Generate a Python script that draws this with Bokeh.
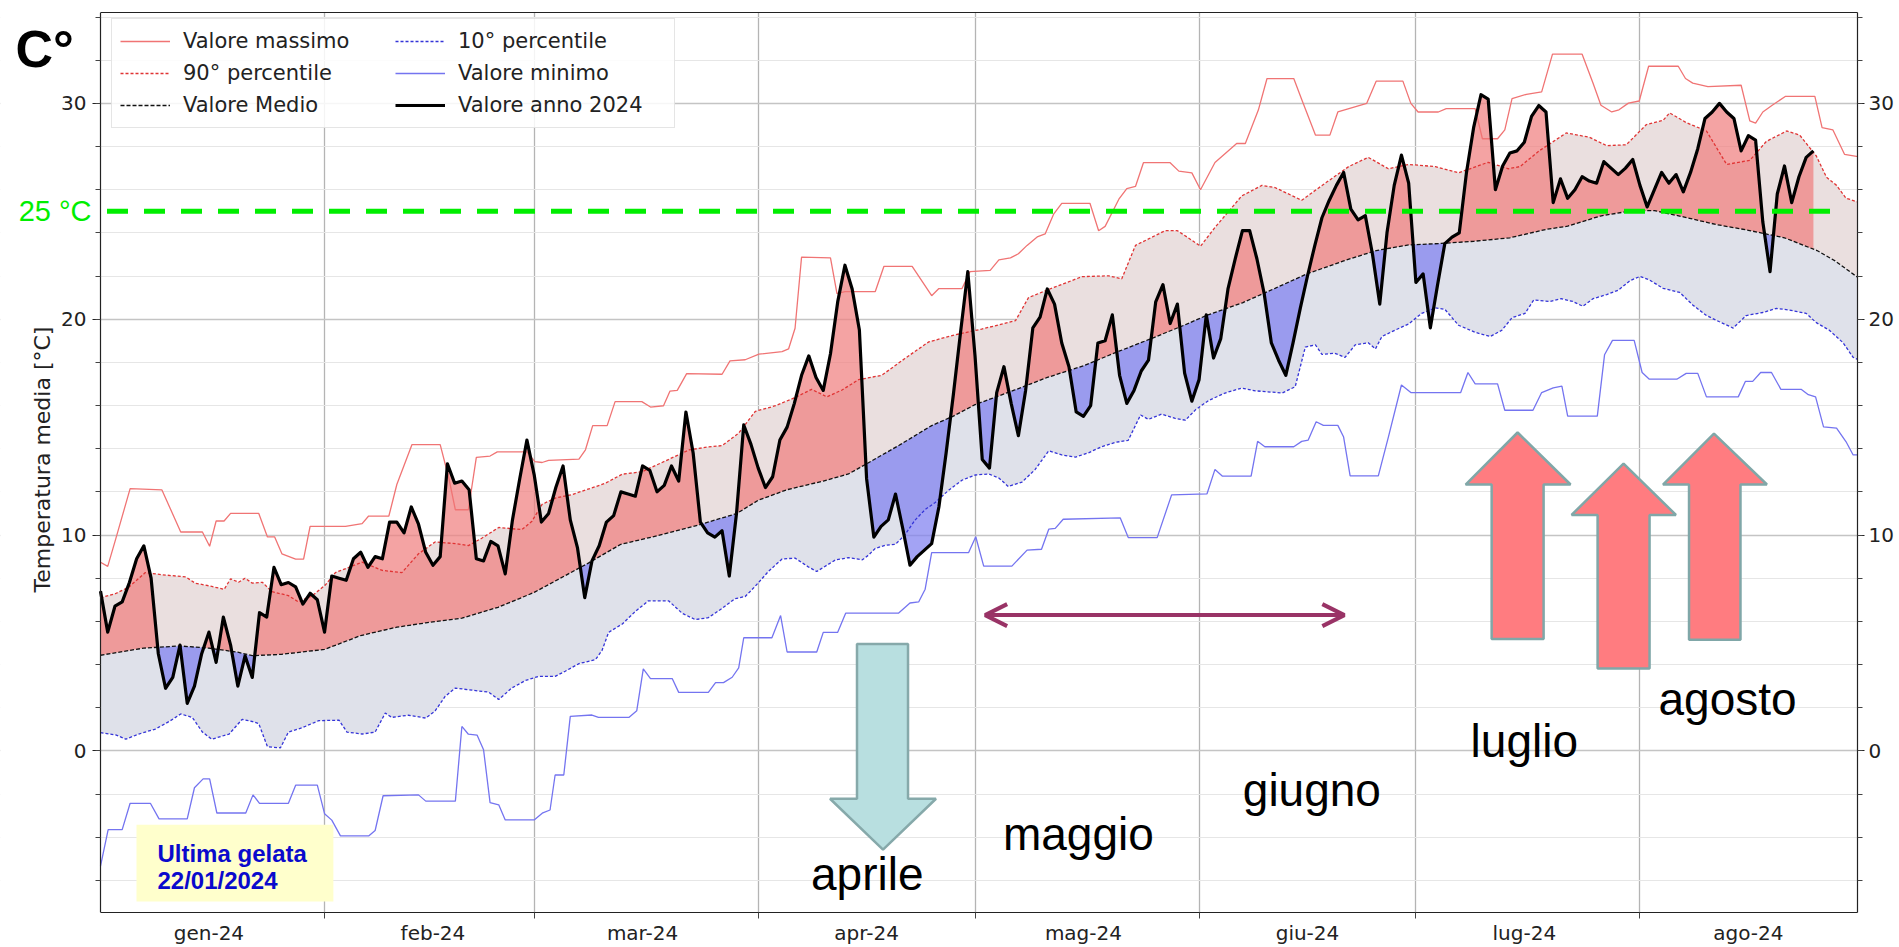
import numpy as np
from bokeh.plotting import figure
from bokeh.models import (Range1d, LinearAxis, FixedTicker, Legend, LegendItem,
                          Label, Arrow, OpenHead)
from bokeh.embed import file_html
from bokeh.resources import INLINE

# ---------------- data (day index from 1 Jan 2024, °C) ----------------
MONTH_LABELS = ["gen-24", "feb-24", "mar-24", "apr-24", "mag-24", "giu-24", "lug-24", "ago-24"]
LABEL_DAYS = [15, 46, 75, 106, 136, 167, 197, 228]
MONTH_STARTS = [31, 60, 91, 121, 152, 182, 213]

MEAN_DAY = [0, 6, 11, 15, 19, 21, 25, 31, 36, 41, 45, 50, 55, 60, 67.5, 72, 77, 83, 88, 91, 95, 100,
            103.5, 106, 110.5, 115, 118, 121, 126.5, 131, 136, 140.5, 145, 150, 153, 158, 162.5, 167,
            172, 176.5, 181, 185.5, 190, 195, 200, 203, 207.5, 212, 215, 219, 223.5, 228, 233, 237.5,
            240, 243.2]
MEAN_VAL = [4.43, 4.76, 4.86, 4.76, 4.57, 4.41, 4.47, 4.70, 5.34, 5.73, 5.93, 6.15, 6.65, 7.34, 8.70,
            9.57, 9.96, 10.49, 10.99, 11.61, 12.10, 12.50, 12.83, 13.30, 14.16, 15.07, 15.51, 16.04,
            16.72, 17.30, 17.84, 18.46, 19.05, 19.73, 20.17, 20.76, 21.43, 22.11, 22.70, 23.18, 23.44,
            23.51, 23.61, 23.77, 24.16, 24.31, 24.78, 25.03, 25.03, 24.74, 24.39, 24.12, 23.77, 23.18,
            22.70, 21.92]

P90_DAY = [0, 2.1, 3.9, 6.2, 8.5, 11.8, 13.1, 15.4, 17.1, 18, 19.1, 20, 21, 22.4, 23.7, 26, 27.4, 29.3,
           31.1, 32.5, 36.2, 39, 41.7, 44, 46.3, 49.1, 50.9, 52.8, 55.1, 58.3, 59.7, 61.1, 62.9, 65.2,
           69.8, 72.2, 74.9, 77.7, 81.4, 84.1, 86, 88.3, 90.6, 93.4, 96.1, 98.4, 100.5, 102.6, 104.9,
           108.1, 111.3, 114.6, 118.3, 121.9, 126.6, 128.4, 131.2, 135.8, 139.5, 141.3, 143.2, 147.3,
           149, 150.5, 152.2, 154.2, 157.9, 160.7, 162.5, 166.2, 169.4, 172.7, 175.4, 178.2, 181, 184.7,
           187.9, 192, 194.8, 196.4, 199.1, 202.8, 206, 208.4, 211.1, 213.9, 216.2, 217.1, 219.4, 222.2,
           225, 228.2, 230.5, 233.3, 235.1, 237.4, 238.8, 240.2, 241.5, 243.2]
P90_VAL = [7.09, 7.29, 7.58, 8.26, 8.16, 8.06, 7.77, 7.62, 7.48, 7.97, 7.81, 8.00, 7.77, 7.81, 7.38,
           7.19, 6.90, 7.19, 7.68, 8.26, 8.74, 8.36, 8.26, 9.13, 9.68, 9.60, 9.51, 9.86, 10.35, 10.25,
           10.64, 11.42, 11.71, 11.87, 12.39, 12.82, 12.93, 13.36, 13.94, 14.08, 14.14, 14.72, 15.73,
           15.99, 16.37, 16.75, 16.40, 16.72, 17.20, 17.40, 18.18, 18.95, 19.28, 19.54, 19.93, 21.00,
           21.38, 21.97, 22.01, 21.87, 23.42, 24.10, 24.10, 23.77, 23.38, 24.25, 25.71, 26.20, 26.10,
           25.51, 26.29, 27.07, 27.50, 26.97, 27.17, 27.07, 26.78, 27.27, 26.97, 27.07, 27.81, 28.63,
           28.43, 28.04, 28.08, 29.02, 29.21, 29.56, 29.11, 28.72, 27.17, 27.36, 28.24, 28.72, 28.53,
           27.56, 26.58, 26.20, 25.61, 25.42]

P10_DAY = [0, 2.1, 3.5, 5.3, 7.6, 9.5, 11.1, 12.7, 14.1, 15.4, 17.8, 19.6, 21, 21.9, 23.1, 24.9, 26,
           27.9, 30.2, 33, 34.1, 36.2, 38, 39.4, 40.3, 42.6, 45, 46.3, 47.7, 49.1, 50.9, 53.7, 55.1,
           56.9, 58.8, 60.6, 62.9, 64.3, 66.2, 68.5, 69.4, 70.3, 72.2, 74, 75.8, 78.6, 80.5, 82.3, 84.1,
           86, 87.8, 89.2, 90.6, 92.4, 94.3, 96.1, 98, 99.1, 101.7, 103.5, 105.4, 106.3, 107.2, 108.6,
           110, 111.3, 112.7, 114.1, 115.5, 117.3, 119.2, 121, 122.9, 124.3, 125.6, 127.5, 129.3, 131.2,
           133, 134.9, 136.7, 138.5, 140.4, 142.2, 143.9, 145, 146.8, 148.7, 150.1, 151.5, 153.3, 155.6,
           157.9, 159.8, 163.5, 165.3, 166.7, 168.1, 169, 170.8, 172.2, 173.6, 175.4, 176.4, 177.3,
           179.1, 181, 182.8, 184.7, 186, 187.9, 190.2, 192.3, 193.9, 195.3, 197.1, 198.3, 200.5, 202.1,
           203.7, 205.1, 206.5, 208.4, 210, 211.6, 213, 214.3, 216.2, 218.5, 220.3, 222.2, 224, 225.9,
           227.7, 230, 231.9, 233.7, 236, 237.4, 239.2, 241.1, 242.5, 243.2]
P10_VAL = [0.84, 0.74, 0.54, 0.78, 1.01, 1.36, 1.71, 1.55, 0.87, 0.54, 0.78, 1.46, 1.36, 1.26, 0.19,
           0.14, 0.87, 1.07, 1.40, 1.42, 0.87, 0.78, 0.87, 1.75, 1.55, 1.65, 1.52, 1.85, 2.53, 2.91,
           2.83, 2.72, 2.38, 2.91, 3.26, 3.45, 3.45, 3.69, 4.04, 4.23, 4.66, 5.49, 5.88, 6.46, 6.95,
           6.95, 6.37, 6.08, 6.17, 6.60, 7.05, 7.15, 7.63, 8.31, 8.89, 8.93, 8.51, 8.31, 8.85, 8.95,
           8.85, 9.08, 9.38, 9.53, 9.57, 10.01, 10.69, 11.18, 11.51, 12.06, 12.54, 12.78, 12.83, 12.64,
           12.25, 12.45, 13.03, 13.90, 13.71, 13.61, 13.81, 14.09, 14.29, 14.39, 15.56, 15.36, 15.60,
           15.40, 15.32, 15.80, 16.23, 16.58, 16.81, 16.68, 16.58, 16.87, 18.71, 18.81, 18.37, 18.42,
           18.23, 18.81, 18.91, 18.62, 19.20, 19.49, 19.78, 20.27, 20.52, 20.46, 19.72, 19.39, 19.20,
           19.49, 20.07, 20.27, 20.89, 20.82, 20.95, 20.82, 20.60, 20.95, 21.14, 21.34, 21.78, 21.98,
           21.82, 21.43, 21.24, 20.66, 20.17, 19.88, 19.59, 20.17, 20.31, 20.50, 20.42, 20.27, 19.84,
           19.49, 18.91, 18.23, 18.13]

MAX_DAY = [0, 1, 2.1, 4.1, 8.5, 11.1, 14.1, 15.1, 16, 17.1, 18, 21.9, 23.1, 24.1, 25.1, 27, 28.1, 29,
           33.9, 36.2, 37.1, 39.9, 41, 43.1, 47, 48.2, 49.1, 50.9, 52, 53.9, 54.9, 59, 60.1, 61.1, 62,
           66.2, 67.1, 68.1, 70.1, 71.2, 74.9, 76.1, 77.9, 78.8, 79.8, 81.1, 86, 87.1, 89.2, 91.1, 94.3,
           95.2, 96.1, 97, 101, 101.9, 103, 107.2, 108.4, 112.3, 115, 116, 119.2, 120.3, 123.1, 124.3,
           125.9, 127, 128.2, 129.6, 130.7, 131.9, 133, 136.9, 138.1, 139, 140.9, 142, 143.2, 144.3, 148,
           149.2, 151, 152.2, 154.2, 157.2, 158.4, 160.2, 161.4, 165.1, 166.2, 168.1, 170.1, 171.2,
           173.2, 175.2, 176.5, 180.2, 181.3, 182.3, 185.1, 186.2, 190.2, 191.2, 193.3, 194.3, 195.3,
           197.3, 199.4, 200.9, 205, 206.5, 207.6, 209.1, 210.1, 211.4, 212.9, 214.2, 218.3, 219.3,
           220.3, 222.4, 227, 228.2, 229, 230, 231.3, 233.1, 237.2, 238.2, 239.7, 241.3, 243.2]
MAX_VAL = [8.74, 8.55, 9.81, 12.15, 12.09, 10.14, 10.14, 9.48, 10.65, 10.65, 11.00, 11.00, 9.91, 9.91,
           9.13, 8.88, 8.88, 10.40, 10.40, 10.53, 10.88, 10.88, 12.34, 14.19, 14.19, 12.63, 11.17,
           11.17, 13.60, 13.66, 13.85, 13.85, 13.40, 13.36, 13.46, 13.52, 13.95, 15.07, 15.07, 16.18,
           16.18, 15.93, 15.99, 16.67, 16.70, 17.48, 17.45, 18.07, 18.12, 18.38, 18.50, 18.62, 19.58,
           22.88, 22.84, 21.18, 21.28, 21.28, 22.45, 22.45, 21.09, 21.42, 21.42, 22.20, 22.26, 22.75,
           22.84, 23.03, 23.42, 23.81, 23.95, 24.88, 25.37, 25.37, 24.10, 24.30, 25.56, 26.05, 26.15,
           27.25, 27.25, 26.86, 26.78, 26.00, 27.26, 28.14, 28.14, 29.69, 31.15, 31.15, 30.18, 28.53,
           28.53, 29.60, 29.80, 30.00, 31.03, 31.03, 30.00, 29.60, 29.60, 29.76, 29.76, 28.36, 28.36,
           28.77, 30.22, 30.42, 30.53, 32.28, 32.28, 30.94, 29.91, 29.60, 29.70, 30.01, 30.11, 31.72,
           31.72, 31.15, 30.94, 30.78, 30.84, 29.19, 29.08, 29.60, 29.91, 30.32, 30.32, 28.88, 28.77,
           27.64, 27.53]

MIN_DAY = [0, 1.06, 3, 4.1, 6.9, 8.1, 12, 13, 14.2, 15.1, 16.1, 20.1, 21.1, 22, 26, 27, 30, 31, 32,
           33.2, 37.1, 38, 39.1, 44, 45, 49.1, 50, 50.9, 52.1, 53, 53.9, 55.1, 56, 60, 61.2, 62.2, 62.9,
           64.1, 65, 68, 68.9, 73.1, 74.2, 75.1, 76.1, 79.1, 80, 84.1, 85.1, 86.2, 87.4, 88.3, 89, 92.9,
           94.1, 95, 99.1, 100, 102, 103.1, 110.4, 112, 113.2, 114.1, 115, 120.1, 121.1, 122.2, 126.1,
           128.2, 130.2, 131.2, 132.1, 133.2, 141.1, 142.2, 146.2, 148.2, 153.1, 154.2, 155.2, 159.2,
           160.1, 161.1, 165.1, 166.2, 167.1, 168.2, 169.2, 171.2, 172, 172.9, 176.8, 178.2, 180, 181.3,
           188.2, 189.2, 190.2, 193.3, 194.3, 198.2, 199.4, 201, 202.2, 203, 207.1, 208.1, 209.2, 212.2,
           213.3, 214.3, 218.1, 219.4, 221, 222.2, 226.6, 227.6, 228.6, 229.7, 231.2, 232.5, 235.3,
           236.3, 237.3, 238.4, 240.2, 241.5, 242.5, 243.2]
MIN_VAL = [-5.34, -3.65, -3.65, -2.43, -2.43, -3.15, -3.15, -1.71, -1.30, -1.30, -2.88, -2.88, -2.04,
           -2.43, -2.43, -1.59, -1.59, -2.91, -3.21, -3.94, -3.94, -3.69, -2.08, -2.04, -2.33, -2.33,
           1.13, 0.77, 0.73, 0.05, -2.40, -2.50, -3.20, -3.20, -2.87, -2.74, -1.12, -1.12, 1.60, 1.66,
           1.55, 1.55, 1.86, 3.80, 3.35, 3.35, 2.71, 2.71, 3.16, 3.16, 3.41, 3.84, 5.24, 5.24, 6.27,
           4.58, 4.58, 5.49, 5.49, 6.38, 6.38, 6.85, 6.90, 7.49, 9.18, 9.18, 9.92, 8.56, 8.56, 9.30,
           9.34, 10.27, 10.31, 10.73, 10.79, 9.88, 9.88, 11.86, 11.91, 13.04, 12.73, 12.73, 14.34,
           14.09, 14.09, 14.34, 14.40, 15.25, 15.08, 15.08, 14.54, 12.74, 12.74, 14.55, 16.95, 16.60,
           16.60, 17.53, 17.00, 17.00, 15.78, 15.78, 16.60, 16.82, 16.90, 15.51, 15.51, 18.35, 19.02,
           19.02, 17.53, 17.22, 17.22, 17.49, 17.49, 16.40, 16.40, 17.12, 17.12, 17.53, 17.53, 16.75,
           16.75, 16.50, 16.40, 15.01, 14.95, 14.33, 13.71, 13.71]

VAL_2024 = [7.4, 5.5, 6.7, 6.9, 7.8, 8.9, 9.5, 8.0, 4.5, 2.9,
            3.4, 4.9, 2.2, 3.0, 4.5, 5.5, 4.1, 6.2, 4.9, 3.0,
            4.4, 3.4, 6.4, 6.2, 8.5, 7.7, 7.8, 7.6, 6.8, 7.3,
            7.0, 5.5, 8.1, 8.0, 7.9, 8.9, 9.2, 8.5, 9.0, 8.9,
            10.6, 10.6, 10.1, 11.3, 10.5, 9.2, 8.6, 9.0, 13.3, 12.4,
            12.5, 12.1, 8.9, 8.8, 9.7, 9.5, 8.2, 10.7, 12.6, 14.4,
            12.8, 10.6, 11.0, 12.2, 13.2, 10.7, 9.4, 7.1, 8.8, 9.5,
            10.6, 10.9, 12.0, 11.9, 11.8, 13.2, 13.0, 12.0, 12.3, 13.2,
            12.5, 15.7, 13.8, 10.6, 10.1, 9.9, 10.2, 8.1, 11.0, 15.1,
            14.2, 13.1, 12.2, 12.7, 14.4, 15.0, 16.1, 17.4, 18.3, 17.3,
            16.7, 18.4, 20.8, 22.5, 21.4, 19.5, 12.6, 9.9, 10.4, 10.7,
            11.9, 10.3, 8.6, 9.0, 9.3, 9.6, 11.3, 13.8, 16.5, 19.4,
            22.2, 18.3, 13.5, 13.1, 16.6, 17.8, 16.1, 14.6, 16.7, 19.6,
            20.1, 21.4, 20.7, 18.9, 17.8, 15.7, 15.5, 16.0, 18.9, 19.0,
            20.2, 17.4, 16.1, 16.7, 17.6, 18.1, 20.8, 21.6, 19.8, 20.7,
            17.5, 16.2, 17.2, 20.2, 18.2, 19.1, 21.4, 22.8, 24.1, 24.1,
            22.8, 21.2, 18.9, 18.1, 17.4, 18.9, 20.5, 22.0, 23.4, 24.7,
            25.5, 26.2, 26.8, 25.1, 24.6, 24.8, 23.0, 20.7, 24.0, 26.2,
            27.6, 26.3, 21.7, 22.1, 19.6, 21.6, 23.5, 23.8, 24.0, 26.8,
            28.9, 30.4, 30.2, 26.0, 27.1, 27.7, 27.8, 28.2, 29.4, 29.9,
            29.6, 25.4, 26.5, 25.6, 26.0, 26.6, 26.4, 26.3, 27.3, 27.0,
            26.7, 27.0, 27.4, 26.2, 25.2, 26.0, 26.8, 26.3, 26.7, 25.9,
            26.8, 27.9, 29.3, 29.6, 30.0, 29.6, 29.3, 27.8, 28.5, 28.3,
            24.5, 22.2, 25.8, 27.1, 25.4, 26.6, 27.5, 27.8]

THRESHOLD = 25
X_END = 243.1

# ---------------- layout constants (pixels) ----------------
W, H = 1899, 947
BORDER_RIGHT, BORDER_TOP, BORDER_BOTTOM = 42, 12, 33
AXIS_PX = 100                      # where day 0 sits (left spine)
frame_w = W - BORDER_RIGHT
px_per_day = (frame_w - AXIS_PX) / X_END
X_START = -AXIS_PX / px_per_day
frame_h = H - BORDER_TOP - BORDER_BOTTOM

p = figure(width=W, height=H, output_backend="svg", toolbar_location=None,
           x_range=Range1d(X_START, X_END), y_range=Range1d(-7.49, 34.21),
           min_border_left=0, min_border_right=BORDER_RIGHT, min_border_top=BORDER_TOP,
           min_border_bottom=BORDER_BOTTOM)
p.background_fill_color = "white"
p.border_fill_color = "white"
p.outline_line_color = None

# grids
p.xgrid.ticker = FixedTicker(ticks=MONTH_STARTS)
p.xgrid.grid_line_color = "#b4b4b4"
p.xgrid.grid_line_width = 1.3
yt = FixedTicker(ticks=[0, 10, 20, 30], minor_ticks=list(range(-6, 35, 2)))
p.ygrid.ticker = yt
p.ygrid.grid_line_color = "#c4c4c4"
p.ygrid.grid_line_width = 1.3
p.ygrid.minor_grid_line_color = "#e6e6e6"
p.ygrid.minor_grid_line_width = 1.2

# white strip left of the spine (hides grid there)
p.quad(left=[X_START], right=[0], bottom=[-7.49], top=[34.21], fill_color="white", line_color=None)

# bands
p.patch(P90_DAY + MEAN_DAY[::-1], P90_VAL + MEAN_VAL[::-1], fill_color="#eadfdf", line_color=None)
p.patch(P10_DAY + MEAN_DAY[::-1], P10_VAL + MEAN_VAL[::-1], fill_color="#dfe1ea", line_color=None)

# 2024 vs mean fills
d = np.arange(len(VAL_2024), dtype=float)
v = np.array(VAL_2024)
m = np.interp(d, MEAN_DAY, MEAN_VAL)
xs, vs, ms = [], [], []
for i in range(len(d)):
    if i > 0:
        a0 = v[i - 1] - m[i - 1]
        a1 = v[i] - m[i]
        if a0 * a1 < 0:
            t = a0 / (a0 - a1)
            yc = m[i - 1] + t * (m[i] - m[i - 1])
            xs.append(d[i - 1] + t); vs.append(yc); ms.append(yc)
    xs.append(d[i]); vs.append(v[i]); ms.append(m[i])
vs = np.array(vs); ms = np.array(ms)
p.varea(x=xs, y1=ms, y2=np.maximum(vs, ms), fill_color="#f08080", fill_alpha=0.72)
p.varea(x=xs, y1=np.minimum(vs, ms), y2=ms, fill_color="#8080f0", fill_alpha=0.72)

# lines
r_max = p.line(MAX_DAY, MAX_VAL, line_color="#f07474", line_width=1.3)
r_p90 = p.line(P90_DAY, P90_VAL, line_color="#e03434", line_width=1.3, line_dash="3 2")
r_mean = p.line(MEAN_DAY, MEAN_VAL, line_color="#111111", line_width=1.3, line_dash="4 2")
r_p10 = p.line(P10_DAY, P10_VAL, line_color="#3434d8", line_width=1.3, line_dash="3 2")
r_min = p.line(MIN_DAY, MIN_VAL, line_color="#7474f0", line_width=1.3)
r_2024 = p.line(list(d), VAL_2024, line_color="black", line_width=3.2, line_join="round")

# 25 °C threshold line (annotation drawn over the data)
p.segment(x0=[0.9], x1=[240.5], y0=[THRESHOLD], y1=[THRESHOLD], line_color="#00ee00",
          line_width=5, line_dash="21 16")

# ---------------- axes ----------------
left_ax = p.yaxis[0]
left_ax.fixed_location = 0
right_ax = LinearAxis(ticker=yt)
p.add_layout(right_ax, "right")
for ax in (left_ax, right_ax):
    ax.ticker = yt
    ax.major_label_text_font = "DejaVu Sans"
    ax.major_label_text_font_size = "20px"
    ax.major_label_text_color = "#222222"
    ax.major_tick_out = 8
    ax.major_tick_in = 0
    ax.minor_tick_out = 5
    ax.minor_tick_in = 0
    ax.axis_line_color = "#222222"
    ax.axis_line_width = 1.2
    ax.major_tick_line_color = "#222222"
    ax.minor_tick_line_color = "#444444"
left_ax.major_label_standoff = 6
right_ax.major_label_standoff = 4
right_ax.major_tick_out = 7

xax = p.xaxis[0]
xax.bounds = (0, X_END)
xax.ticker = FixedTicker(ticks=LABEL_DAYS, minor_ticks=MONTH_STARTS)
xax.major_label_overrides = {dd: lab for dd, lab in zip(LABEL_DAYS, MONTH_LABELS)}
xax.major_tick_out = 0
xax.major_tick_in = 0
xax.minor_tick_out = 6
xax.minor_tick_in = 0
xax.major_label_standoff = 2
xax.major_label_text_font = "DejaVu Sans"
xax.major_label_text_font_size = "20px"
xax.major_label_text_color = "#222222"
xax.axis_line_color = "#222222"
xax.axis_line_width = 1.2
xax.minor_tick_line_color = "#444444"

top_ax = LinearAxis(ticker=FixedTicker(ticks=[]), bounds=(0, X_END), major_tick_out=0,
                    minor_tick_out=0, major_label_text_font_size="0px", axis_line_color="#222222",
                    axis_line_width=1.2)
p.add_layout(top_ax, "above")

# y axis title (inside the widened frame)
p.add_layout(Label(x=(42 - AXIS_PX) / px_per_day, y=13.5, text="Temperatura media [°C]",
                   angle=np.pi / 2, text_align="center", text_baseline="middle",
                   text_font="DejaVu Sans", text_font_size="22px", text_color="#222222"))

# ---------------- legend ----------------
ROW_H, SPACING, PAD = 28, 4, 8
legend_h = 2 * PAD + 3 * ROW_H + 2 * SPACING
legend = Legend(items=[
    LegendItem(label="Valore massimo", renderers=[r_max]),
    LegendItem(label="90° percentile", renderers=[r_p90]),
    LegendItem(label="Valore Medio", renderers=[r_mean]),
    LegendItem(label="10° percentile", renderers=[r_p10]),
    LegendItem(label="Valore minimo", renderers=[r_min]),
    LegendItem(label="Valore anno 2024", renderers=[r_2024]),
], location=(111, frame_h - 10 - legend_h), ncols=2)
legend.label_text_font = "DejaVu Sans"
legend.label_text_font_size = "21px"
legend.label_text_color = "#222222"
legend.glyph_width = 50
legend.glyph_height = ROW_H
legend.label_height = ROW_H
legend.label_width = 208
legend.label_standoff = 13
legend.spacing = SPACING
legend.padding = PAD
legend.margin = 0
legend.border_line_color = "#cccccc"
legend.border_line_width = 1
legend.background_fill_alpha = 0.85
p.add_layout(legend)

# ---------------- annotations ----------------
p.add_layout(Label(x=(91 - AXIS_PX) / px_per_day, y=THRESHOLD, text="25 °C", text_align="right",
                   text_baseline="middle", text_font="Liberation Sans", text_font_size="29px",
                   text_color="#00ee00"))
p.add_layout(Label(x=(15 - AXIS_PX) / px_per_day, y=32.5, text="C°", text_font="Liberation Sans",
                   text_font_style="bold", text_font_size="52px", text_color="black",
                   text_baseline="alphabetic"))

# yellow box
p.quad(left=[4.98], right=[32.22], top=[-3.42], bottom=[-6.98], fill_color="#ffffcc", line_color=None)
for txt, yy in [("Ultima gelata", -4.76), ("22/01/2024", -6.01)]:
    p.add_layout(Label(x=7.88, y=yy, text=txt, text_font="Liberation Sans", text_font_style="bold",
                       text_font_size="24px", text_color="#0a0acc", text_baseline="alphabetic"))


def up_arrow(sl, sr, bottom, hb, hl, hr, tx, ty):
    return [sl, sl, hl, tx, hr, sr, sr], [bottom, hb, hb, ty, hb, hb, bottom]


# teal down arrow
p.patch([104.67, 104.67, 100.94, 108.27, 115.6, 111.73, 111.73],
        [4.95, -2.22, -2.22, -4.58, -2.22, -2.22, 4.95],
        fill_color="#b8dfe0", line_color="#86a9aa", line_width=2.5)

# red up arrows
arrows = [up_arrow(192.48, 199.67, 5.18, 12.34, 188.88, 203.40, 196.07, 14.75),
          up_arrow(207.14, 214.33, 3.81, 10.93, 203.54, 217.98, 210.73, 13.31),
          up_arrow(219.79, 226.91, 5.15, 12.34, 216.19, 230.57, 223.24, 14.70)]
p.patches([a[0] for a in arrows], [a[1] for a in arrows],
          fill_color="#ff7c80", line_color="#80a7a8", line_width=2.5)

# double-headed purple arrow
p.add_layout(Arrow(start=OpenHead(size=22, line_color="#993366", line_width=4),
                   end=OpenHead(size=22, line_color="#993366", line_width=4),
                   x_start=122.4, y_start=6.29, x_end=172.1, y_end=6.29,
                   line_color="#993366", line_width=4))

# month annotations
for txt, xx, yy in [("aprile", 98.31, -5.69), ("maggio", 124.86, -3.84), ("giugno", 158.05, -1.80),
                    ("luglio", 189.57, 0.45), ("agosto", 215.57, 2.38)]:
    p.add_layout(Label(x=xx, y=yy, text=txt, text_font="Liberation Sans", text_baseline="alphabetic",
                       text_font_size="46px", text_color="black"))

open("out.html", "w").write(file_html(p, INLINE))
